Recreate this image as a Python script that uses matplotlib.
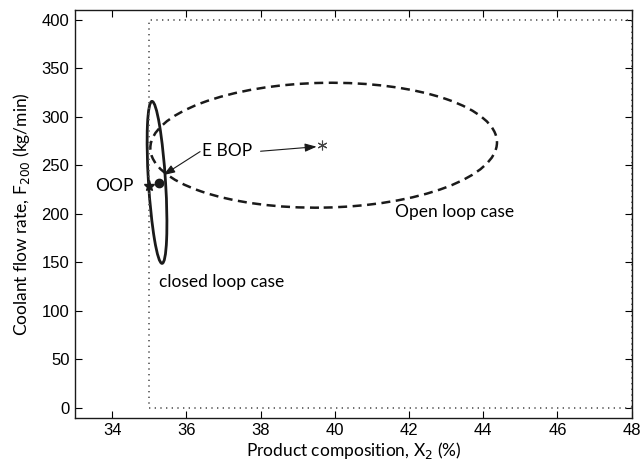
import matplotlib
matplotlib.use("Agg")
import matplotlib.pyplot as plt
from matplotlib.patches import Circle
from matplotlib.transforms import Affine2D

# AXES
x_limits = [33, 48]
y_limits = [-10, 410]
x_ticks = [34, 36, 38, 40, 42, 44, 46, 48]
y_ticks = [0, 50, 100, 150, 200, 250, 300, 350, 400]

# CONSTRAINT BOX (dotted)
box_x = [48, 35, 35, 48, 48]
box_y = [0, 0, 400, 400, 0]

# OPEN LOOP REGION: centre, half width, half height, tilt of right end
open_centre = [39.7, 270.8]
open_half_x = 4.67
open_half_y = 64.3
open_tilt = 3.0

# CLOSED LOOP REGION: centre, half width, half height, shear of top end
closed_centre = [35.21, 232.5]
closed_half_x = 0.23
closed_half_y = 83.5
closed_shear = 0.135

# POINTS
oop_x, oop_y = 35.0, 229.0
ebop_x, ebop_y = 35.25, 232.0
open_mid_x, open_mid_y = 39.65, 271.0
ebop_target_x, ebop_target_y = 35.38, 240.0


def main():
    """ Main method """
    plt.rcParams['font.family'] = ['Liberation Sans', 'DejaVu Sans']
    fig = plt.figure(figsize=(6.41, 4.63), dpi=100)
    ax = fig.add_axes([0.117, 0.098, 0.8685, 0.880])

    # constraint box
    ax.plot(box_x, box_y, linestyle=(0, (0.8, 2.6)), color='#555555', lw=1.2)

    # open loop ellipse (dashed)
    cx, cy = open_centre
    tr = Affine2D.from_values(open_half_x, open_tilt, 0, open_half_y, cx, cy)
    ax.add_patch(Circle((0, 0), 1, fill=False, ec='#1a1a1a', lw=1.8,
                        linestyle=(0, (3.6, 2.2)), transform=tr + ax.transData))

    # closed loop ellipse (solid)
    cx, cy = closed_centre
    tr = Affine2D.from_values(closed_half_x, 0, -closed_shear, closed_half_y, cx, cy)
    ax.add_patch(Circle((0, 0), 1, fill=False, ec='#1a1a1a', lw=2.0,
                        transform=tr + ax.transData))

    # markers
    ax.plot(oop_x, oop_y, marker='*', ms=8, color='#1a1a1a', ls='none')
    ax.plot(ebop_x, ebop_y, marker='o', ms=6, color='#1a1a1a', ls='none')
    ax.plot(open_mid_x, open_mid_y, marker=(6, 2, 0), ms=7, mew=0.8,
            color='#444444', ls='none')

    # text and arrows
    tf = ['Lato', 'DejaVu Sans']
    ax.text(34.57, 229, 'OOP', ha='right', va='center', fontsize=12.5, family=tf)
    ax.text(36.42, 265, 'E BOP', ha='left', va='center', fontsize=12.5, family=tf)
    ax.text(41.63, 202, 'Open loop case', ha='left', va='center', fontsize=12.5, family=tf)
    ax.text(35.26, 130, 'closed loop case', ha='left', va='center', fontsize=12.5, family=tf)
    arrow = dict(arrowstyle='-|>,head_length=0.7,head_width=0.25', color='#1a1a1a',
                 lw=0.8, shrinkA=0, shrinkB=0)
    ax.annotate('', xy=(ebop_target_x, ebop_target_y), xytext=(36.37, 264.2),
                arrowprops=arrow)
    ax.annotate('', xy=(39.51, 269.3), xytext=(38.0, 264.6), arrowprops=arrow)

    # axes cosmetics
    ax.set_xlim(x_limits)
    ax.set_ylim(y_limits)
    ax.set_xticks(x_ticks)
    ax.set_yticks(y_ticks)
    ax.tick_params(direction='in', top=True, right=True, length=5, width=0.8,
                   labelsize=12, pad=4)
    for s in ax.spines.values():
        s.set_linewidth(1.0)
        s.set_color('#1a1a1a')
    ax.set_xlabel('Product composition, X$_2$ (%)', fontsize=12.5, family=tf, labelpad=1)
    ax.set_ylabel('Coolant flow rate, F$_{200}$ (kg/min)', fontsize=12.5, family=tf,
                  labelpad=7)

    fig.savefig('out.png', dpi=100)


if __name__ == '__main__':
    main()
